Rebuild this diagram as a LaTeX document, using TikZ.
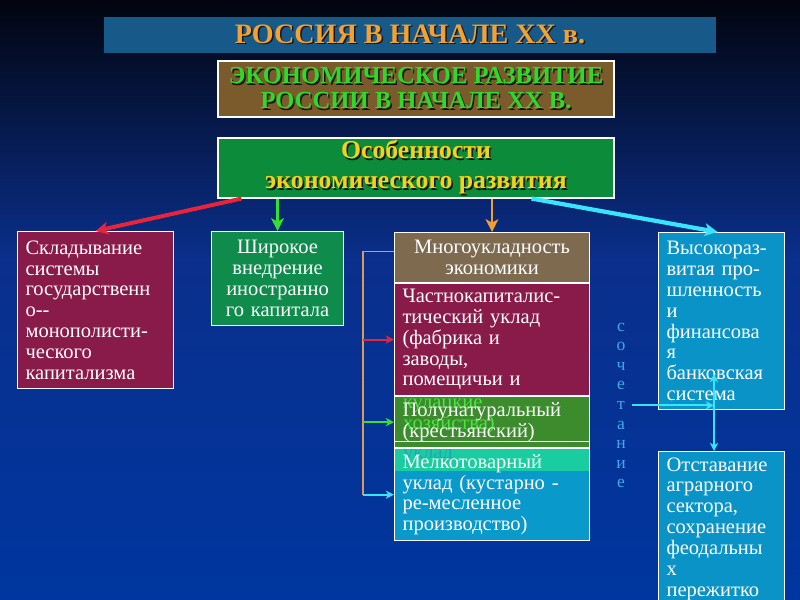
\documentclass[tikz,border=0pt]{standalone}
\usepackage{fontspec}
\setmainfont{Liberation Serif}
\usetikzlibrary{arrows.meta,positioning}

\newlength{\px}
\setlength{\px}{0.3mm}

\definecolor{bgtop}{HTML}{02050F}
\definecolor{bgmid}{HTML}{0A2F8C}
\definecolor{bgbot}{HTML}{0036A0}
\definecolor{barblue}{HTML}{175A8A}
\definecolor{titleorange}{HTML}{F2A230}
\definecolor{econbrown}{HTML}{7B5A2B}
\definecolor{econgreen}{HTML}{30D82A}
\definecolor{osobgreen}{HTML}{0C8B3A}
\definecolor{osobyellow}{HTML}{F2D21A}
\definecolor{maroon}{HTML}{891B4B}
\definecolor{shirgreen}{HTML}{0F8C4C}
\definecolor{hdrbrown}{HTML}{7E6A4F}
\definecolor{olive}{HTML}{3C8B2C}
\definecolor{kulak}{HTML}{48E640}
\definecolor{tealstrip}{HTML}{19CDA0}
\definecolor{uklad}{HTML}{1FA5C0}
\definecolor{melkoblue}{HTML}{0A99CB}
\definecolor{rightblue}{HTML}{0A93C7}
\definecolor{redarrow}{HTML}{E8243A}
\definecolor{greenarrow}{HTML}{35E035}
\definecolor{orangearrow}{HTML}{F0A030}
\definecolor{cyanarrow}{HTML}{38E4FF}
\definecolor{brkorange}{HTML}{D99A5A}
\definecolor{sochblue}{HTML}{45A8E6}
\definecolor{shadowc}{HTML}{151515}

\newcommand{\shad}[2]{\leavevmode\rlap{\kern1.3pt\raisebox{-1.3pt}{\color{shadowc}#2}}{\color{#1}#2}}
\newcommand{\bodyfont}{\fontsize{17.5}{17.8}\selectfont}

\begin{document}
\begin{tikzpicture}[x=0.3mm,y=-0.3mm,
    bigtip/.tip={Stealth[length=11pt,width=11pt,inset=3pt]},
    smalltip/.tip={Stealth[length=7pt,width=7pt,inset=2pt]},
    link/.style={-bigtip,line width=#1},
    sublink/.style={-smalltip,line width=1.6pt},
    box/.style={draw=white,line width=0.9pt,inner xsep=8\px,inner ysep=2\px,
      font=\bodyfont,text=white},
    leftbox/.style={box,anchor=north west,align=left},
    stack/.style={box,below=0pt of #1,minimum width=195\px,text width=179\px,align=left},
    spill/.style={anchor=base west,draw=none,fill=none,inner sep=0pt,
      minimum width=0pt,minimum height=0pt,text width=170\px,align=left,font=\bodyfont},
    sochet/.style={font=\fontsize{15}{15}\selectfont,text=sochblue,inner sep=0pt}]

    % background
    \clip (0,0) rectangle (800,600);
    \shade[top color=bgtop,bottom color=bgmid] (0,0) rectangle (800,260);
    \shade[top color=bgmid,bottom color=bgbot] (0,259) rectangle (800,600);

    % headings
    \node[fill=barblue,minimum width=612\px,minimum height=36\px,inner sep=0pt,
        font=\bfseries\fontsize{24}{24}\selectfont] (title) at (410,35)
        {\shad{titleorange}{РОССИЯ В НАЧАЛЕ XX в.}};
    \node[draw=white,line width=0.9pt,fill=econbrown,minimum width=396\px,
        minimum height=56\px,inner sep=0pt,align=center,
        font=\bfseries\fontsize{21}{21.3}\selectfont] (econ) at (416,89)
        {\shad{econgreen}{ЭКОНОМИЧЕСКОЕ РАЗВИТИЕ}\\\shad{econgreen}{РОССИИ В НАЧАЛЕ XX В.}};
    \node[draw=white,line width=0.9pt,fill=osobgreen,minimum width=396\px,
        minimum height=60\px,inner sep=0pt,align=center,
        font=\bfseries\fontsize{22}{25.5}\selectfont] (osob) at (416,168)
        {\shad{osobyellow}{Особенности}\\\shad{osobyellow}{экономического развития}};

    % four features
    \node[leftbox,fill=maroon,minimum width=156\px,minimum height=157\px,text width=140\px]
        (sklad) at (17,231)
        {Складывание\\системы\\государственн\\о-{}-\\монополисти-\\ческого\\капитализма};
    \node[box,anchor=north west,fill=shirgreen,minimum width=132\px,minimum height=94\px,
        text width=116\px,align=center] (shirok) at (211,231)
        {Широкое\\внедрение\\иностранно\\го капитала};
    \node[box,anchor=north west,fill=hdrbrown,minimum width=195\px,minimum height=50\px,
        text width=179\px,align=center] (mnogo) at (394,232)
        {Многоукладность\\экономики};
    \node[stack=mnogo,fill=maroon,minimum height=112\px] (chast)
        {Частнокапиталис-\\тический уклад\\(фабрика и\\заводы,\\помещичьи и};
    \node[stack=chast,fill=olive,minimum height=51\px,
        path picture={
          \draw[white,line width=0.9pt]
            ([yshift=-45\px]path picture bounding box.north west) --
            ([yshift=-45\px]path picture bounding box.north east);
          \node[spill,text=kulak] at ([xshift=8\px,yshift=-12\px]path picture bounding box.north west) {кулацкие};
          \node[spill,text=kulak] at ([xshift=8\px,yshift=-33\px]path picture bounding box.north west) {хозяйства)};
        }] (polu)
        {Полунатуральный\\(крестьянский)};
    \node[stack=polu,fill=melkoblue,minimum height=92\px,
        path picture={
          \fill[tealstrip] (path picture bounding box.north west) rectangle
            ([yshift=-22\px]path picture bounding box.north east);
          \node[spill,text=uklad] at ([xshift=8\px,yshift=-10\px]path picture bounding box.north west) {уклад};
        }] (melko)
        {Мелкотоварный\\уклад (кустарно -\\ре-месленное\\производство)};
    \node[leftbox,fill=rightblue,minimum width=126\px,minimum height=177\px,text width=110\px]
        (vysok) at (658,232)
        {Высокораз-\\витая про-\\шленность\\и\\финансова\\я\\банковская\\система};
    \node[leftbox,fill=rightblue,minimum width=126\px,minimum height=155\px,text width=110\px]
        (otstav) at (658,451)
        {Отставание\\аграрного\\сектора,\\сохранение\\феодальны\\х\\пережитко};

    % vertical word
    \foreach \ch [count=\i] in {с,о,ч,е,т,а,н,и,е}
        \node[sochet] (s\i) at (621,307.4+19.6*\i) {\ch};

    % arrows from the features box
    \draw[link=3.4pt,redarrow] ([xshift=24\px]osob.south west) -- (sklad.north);
    \draw[link=1.8pt,greenarrow] (shirok.north |- osob.south) -- (shirok.north);
    \draw[link=1.8pt,orangearrow] (mnogo.north |- osob.south) -- (mnogo.north);
    \draw[link=3.6pt,cyanarrow] ([xshift=-83\px]osob.south east) -- ([xshift=-4\px]vysok.north);

    % bracket of the economic systems
    \draw[brkorange,line width=1.4pt] ([yshift=1.8mm]mnogo.west) -- ++(-31,0) coordinate (bus)
        -- (bus |- melko.west);
    \draw[sublink,redarrow] (bus |- chast.west) -- (chast.west);
    \draw[sublink,greenarrow] (bus |- polu.west) -- (polu.west);
    \draw[sublink,cyanarrow] (bus |- melko.west) -- (melko.west);

    % combination
    \coordinate (joint) at (714,374);
    \draw[sublink,cyanarrow] ([xshift=2mm]s5.east) -- (s5 -| joint);
    \draw[sublink,cyanarrow,smalltip-smalltip] (joint) -- (joint |- otstav.north);

\end{tikzpicture}
\end{document}
